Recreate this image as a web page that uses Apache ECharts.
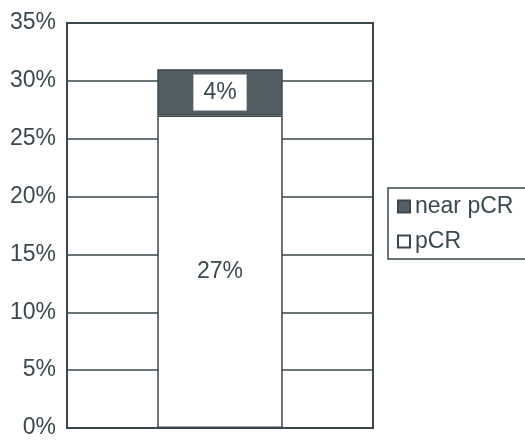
<!DOCTYPE html>
<html><head><meta charset="utf-8">
<script src="https://cdn.jsdelivr.net/npm/echarts@6/dist/echarts.min.js"></script>
<style>html,body{margin:0;padding:0;background:#fff}#c{width:525px;height:443px}</style>
</head><body><div id="c"></div>
<script>
const categories = [''];
const pCR = [27];
const nearPCR = [4];
const yTicks = [0, 5, 10, 15, 20, 25, 30, 35];
const ink = '#3b484d';
const chart = echarts.init(document.getElementById('c'));
chart.setOption({
  animation: false,
  backgroundColor: '#fff',
  textStyle: {fontFamily: 'Liberation Sans, Arial, sans-serif'},
  grid: {left: 67, right: 152, top: 23, bottom: 15, show: true, borderColor: ink, borderWidth: 2, backgroundColor: 'transparent'},
  xAxis: {type: 'category', data: categories, axisLine: {show: false}, axisTick: {show: false}, axisLabel: {show: false}},
  yAxis: {type: 'value', min: yTicks[0], max: yTicks[yTicks.length-1], interval: 5,
    axisLine: {show: false}, axisTick: {show: false},
    axisLabel: {formatter: v => v + '%', color: ink, fontSize: 23, margin: 11},
    splitLine: {lineStyle: {color: ink, width: 1.5}}},
  legend: {orient: 'vertical', left: 388, top: 188, padding: [7, 30, 6, 9], itemGap: 12,
    itemWidth: 12, itemHeight: 12, icon: 'rect',
    borderColor: ink, borderWidth: 1.5, backgroundColor: '#fff',
    textStyle: {color: ink, fontSize: 23, padding: [0, 0, 0, 0]},
    data: ['near pCR', 'pCR']},
  series: [
    {name: 'pCR', type: 'bar', stack: 's', data: pCR, barWidth: '41%',
      itemStyle: {color: '#fff', borderColor: ink, borderWidth: 1.5},
      label: {show: true, position: 'inside', formatter: p => p.value + '%', color: ink, fontSize: 23}},
    {name: 'near pCR', type: 'bar', stack: 's', data: nearPCR,
      itemStyle: {color: '#535f64', borderColor: ink, borderWidth: 1.5},
      label: {show: true, position: 'inside', formatter: p => p.value + '%', color: ink, fontSize: 23,
        backgroundColor: '#fff', padding: [7, 10, 6, 10]}}
  ]
});
</script></body></html>
